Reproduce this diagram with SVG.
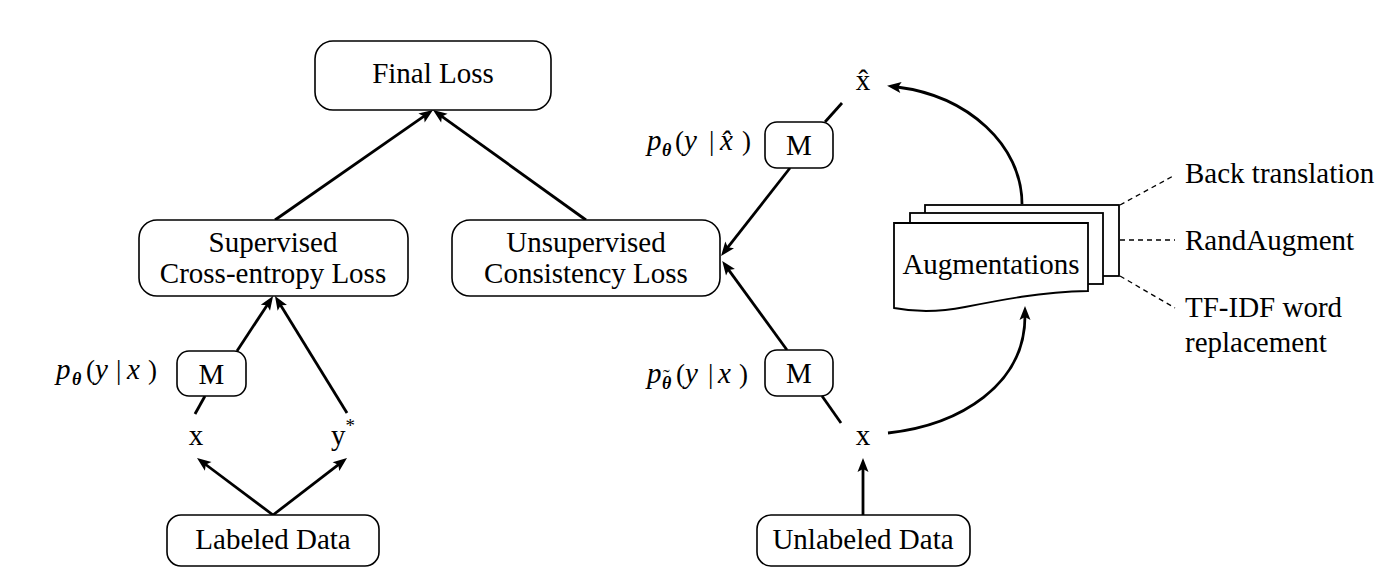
<svg xmlns="http://www.w3.org/2000/svg" width="1384" height="572" viewBox="0 0 1384 572">
<style>
  text { font-family: "Liberation Serif", "Times New Roman", serif; font-size: 29px; fill: #000; }
  .c { text-anchor: middle; }
  .box { fill: #fff; stroke: #000; stroke-width: 1.6; }
  .doc { fill: #fff; stroke: #000; stroke-width: 1.8; }
  .edge { fill: none; stroke: #000; stroke-width: 2.8; }
  .arr { marker-end: url(#ah); }
  .dash { fill: none; stroke: #000; stroke-width: 1.3; stroke-dasharray: 5 4; }
  .m { font-size: 27px; }
  .i { font-style: italic; font-size: 29px; }
  .sub { font-size: 18px; font-style: italic; font-weight: bold; }
</style>
<defs>
  <marker id="ah" markerUnits="userSpaceOnUse" viewBox="-6 -7 18 14" refX="0" refY="0" markerWidth="18" markerHeight="14" orient="auto" overflow="visible">
    <path d="M10,0 L-4,-5.5 L-1,0 L-4,5.5 Z" fill="#000"/>
  </marker>
</defs>
<rect width="1384" height="572" fill="#fff"/>

<g id="connectors">
  <line class="edge arr" x1="275" y1="220" x2="424.8" y2="115.7"/>
  <line class="edge arr" x1="586" y1="220" x2="441.1" y2="115.8"/>
  <line class="edge arr" x1="237" y1="351" x2="267.6" y2="304.4"/>
  <line class="edge arr" x1="347" y1="413" x2="280.2" y2="304.5"/>
  <line class="edge" x1="205" y1="396" x2="195" y2="414"/>
  <line class="edge arr" x1="273" y1="515" x2="205" y2="464"/>
  <line class="edge arr" x1="273" y1="515" x2="339.1" y2="464.1"/>
  <line class="edge arr" x1="790" y1="168" x2="727.2" y2="248.1"/>
  <line class="edge arr" x1="787" y1="350" x2="728.1" y2="269.1"/>
  <line class="edge" x1="825" y1="122" x2="842" y2="103"/>
  <line class="edge" x1="822" y1="396" x2="841" y2="423"/>
  <path class="edge arr" d="M1022,204 C1022,145 968,96 897,87"/>
  <path class="edge arr" d="M888,433 C960,425 1025,385 1025,316"/>
  <line class="edge arr" x1="863" y1="515" x2="863" y2="468"/>
  <line class="dash" x1="1120" y1="205" x2="1175" y2="175"/>
  <line class="dash" x1="1120" y1="240" x2="1175" y2="240"/>
  <line class="dash" x1="1120" y1="276" x2="1175" y2="308"/>
</g>

<g id="final-loss">
  <rect class="box" x="315" y="41" width="236" height="69" rx="18"/>
  <text class="c" x="433" y="83">Final Loss</text>
</g>
<g id="supervised-loss">
  <rect class="box" x="139" y="220" width="269" height="76" rx="18"/>
  <text class="c" x="273" y="252">Supervised</text>
  <text class="c" x="273" y="283">Cross-entropy Loss</text>
</g>
<g id="unsupervised-loss">
  <rect class="box" x="452" y="220" width="268" height="76" rx="18"/>
  <text class="c" x="586" y="252">Unsupervised</text>
  <text class="c" x="586" y="283">Consistency Loss</text>
</g>
<g id="model-left">
  <rect class="box" x="177" y="351" width="69" height="45" rx="12"/>
  <text class="c" x="211.5" y="384">M</text>
  <text class="m" y="379"><tspan class="i" x="56">p</tspan><tspan class="sub" x="72" dy="6">θ</tspan><tspan x="86" dy="-6">(</tspan><tspan class="i" x="95">y</tspan><tspan x="116">|</tspan><tspan class="i" x="127">x</tspan><tspan x="148">)</tspan></text>
</g>
<g id="x-left">
  <text class="c" x="196" y="445">x</text>
</g>
<g id="y-star">
  <text class="c" x="343" y="445">y<tspan font-size="19" dy="-13">*</tspan></text>
</g>
<g id="labeled-data">
  <rect class="box" x="167" y="515" width="212" height="51" rx="14"/>
  <text class="c" x="273" y="549">Labeled Data</text>
</g>

<g id="model-upper">
  <rect class="box" x="765" y="122" width="68" height="46" rx="12"/>
  <text class="c" x="799" y="155">M</text>
  <text class="m" y="150"><tspan class="i" x="647">p</tspan><tspan class="sub" x="662" dy="6">θ</tspan><tspan x="675" dy="-6">(</tspan><tspan class="i" x="684">y</tspan><tspan x="709">|</tspan><tspan class="i" x="720">x̂</tspan><tspan x="742">)</tspan></text>
</g>
<g id="x-hat">
  <text class="c" x="863" y="90">x̂</text>
</g>
<g id="model-lower">
  <rect class="box" x="765" y="350" width="68" height="46" rx="12"/>
  <text class="c" x="799" y="383">M</text>
  <text class="m" y="383"><tspan class="i" x="647">p</tspan><tspan class="sub" x="662" dy="6">θ</tspan><tspan x="663" dy="-5" font-size="20">˜</tspan><tspan x="676" dy="-1">(</tspan><tspan class="i" x="685">y</tspan><tspan x="708">|</tspan><tspan class="i" x="718">x</tspan><tspan x="739">)</tspan></text>
</g>
<g id="x-right">
  <text class="c" x="863" y="445">x</text>
</g>
<g id="unlabeled-data">
  <rect class="box" x="757" y="515" width="213" height="51" rx="14"/>
  <text class="c" x="863" y="549">Unlabeled Data</text>
</g>

<g id="augmentations">
  <rect class="doc" x="925" y="205" width="194" height="71"/>
  <rect class="doc" x="910" y="213" width="193" height="71"/>
  <path class="doc" d="M894,223 L1088,223 L1088,291 C1040,292 1000,300 965,307 C940,312 915,312 894,308 Z"/>
  <text class="c" x="991" y="274">Augmentations</text>
</g>
<g id="aug-types">
  <text x="1185" y="183">Back translation</text>
  <text x="1185" y="250">RandAugment</text>
  <text x="1185" y="317">TF-IDF word</text>
  <text x="1185" y="352">replacement</text>
</g>
</svg>
